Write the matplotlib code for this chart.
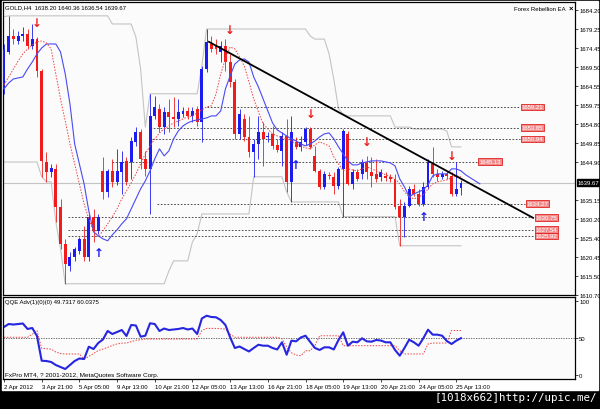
import numpy as np
import pandas as pd
import matplotlib
matplotlib.use('Agg')
import matplotlib.pyplot as plt
from matplotlib.patches import Rectangle
import matplotlib.transforms as mtransforms

plt.rcParams['font.family'] = ['Liberation Sans', 'DejaVu Sans']

# GOLD H4 candles (open, high, low, close)
opens = [1663.8, 1673.4, 1677.5, 1676.2, 1677.5, 1678.0, 1674.9, 1676.7, 1668.5, 1645.0,
         1642.5, 1643.2, 1633.4, 1623.9, 1618.2, 1620.5, 1622.1, 1625.2, 1620.5, 1630.9,
         1627.3, 1642.7, 1637.3, 1642.7, 1639.9, 1642.5, 1645.3, 1645.0, 1650.2, 1652.8,
         1645.8, 1643.2, 1656.9, 1658.7, 1654.0, 1657.9, 1656.6, 1656.1, 1657.4, 1658.2,
         1656.9, 1658.7, 1655.3, 1669.0, 1675.4, 1674.9, 1673.4, 1674.9, 1670.8, 1665.6,
         1652.2, 1656.1, 1651.5, 1647.6, 1649.7, 1652.8, 1651.5, 1652.2, 1649.4, 1647.9,
         1651.7, 1639.9, 1650.2, 1648.9, 1650.2, 1653.5, 1646.6, 1642.7, 1638.6, 1641.7,
         1641.2, 1638.8, 1643.2, 1652.2, 1639.4, 1642.5, 1641.9, 1645.0, 1642.5, 1641.9,
         1641.2, 1641.4, 1641.2, 1640.7, 1633.7, 1630.9, 1633.7, 1638.1, 1636.8, 1634.2,
         1638.6, 1644.5, 1641.9, 1641.2, 1641.9, 1641.4, 1636.8, 1638.2]
highs = [1675.4, 1682.7, 1679.3, 1678.8, 1679.8, 1679.3, 1680.6, 1677.2, 1669.0, 1647.6,
         1644.5, 1644.5, 1635.5, 1625.2, 1621.8, 1623.1, 1625.7, 1628.5, 1631.6, 1632.9,
         1631.6, 1646.3, 1643.2, 1645.8, 1648.4, 1647.9, 1646.3, 1651.5, 1654.0, 1653.5,
         1647.9, 1662.6, 1662.0, 1660.0, 1659.2, 1661.3, 1661.8, 1661.3, 1659.2, 1659.2,
         1659.2, 1659.5, 1669.8, 1679.3, 1677.5, 1676.7, 1676.2, 1676.7, 1672.9, 1666.4,
         1658.7, 1657.4, 1656.9, 1651.0, 1656.9, 1655.3, 1652.8, 1654.3, 1651.0, 1652.8,
         1656.1, 1656.9, 1651.5, 1651.7, 1654.0, 1654.0, 1649.1, 1643.2, 1642.7, 1642.5,
         1642.5, 1643.7, 1653.5, 1653.0, 1643.2, 1643.2, 1645.8, 1646.6, 1646.3, 1645.8,
         1643.2, 1642.5, 1641.9, 1641.9, 1635.5, 1634.7, 1638.8, 1639.4, 1638.1, 1639.9,
         1645.8, 1648.9, 1643.2, 1642.7, 1642.7, 1642.5, 1645.0, 1640.36]
lows = [1662.6, 1672.9, 1675.4, 1675.4, 1676.2, 1674.2, 1674.2, 1666.9, 1641.2, 1639.9,
        1641.2, 1629.6, 1622.6, 1613.6, 1616.9, 1619.5, 1621.3, 1619.5, 1619.5, 1624.4,
        1626.5, 1635.5, 1636.0, 1638.6, 1639.1, 1636.8, 1639.1, 1640.7, 1649.1, 1643.2,
        1641.4, 1631.6, 1656.1, 1652.8, 1652.2, 1652.8, 1654.0, 1654.3, 1656.6, 1656.1,
        1655.3, 1654.3, 1650.2, 1668.2, 1673.4, 1672.9, 1670.8, 1668.5, 1664.4, 1651.0,
        1651.0, 1650.4, 1646.3, 1641.2, 1645.8, 1644.0, 1650.2, 1648.4, 1647.6, 1644.0,
        1637.3, 1634.7, 1648.4, 1647.9, 1649.4, 1648.4, 1642.5, 1638.1, 1638.1, 1640.7,
        1636.8, 1638.1, 1630.9, 1639.0, 1638.1, 1640.1, 1640.7, 1640.7, 1638.6, 1639.9,
        1640.1, 1640.1, 1639.9, 1632.9, 1623.4, 1625.7, 1633.4, 1636.3, 1633.7, 1633.7,
        1638.1, 1641.2, 1640.1, 1640.7, 1640.7, 1636.3, 1636.3, 1636.54]
closes = [1674.2, 1677.5, 1676.7, 1677.5, 1678.0, 1674.9, 1676.7, 1668.5, 1645.3, 1642.5,
          1643.5, 1633.4, 1623.9, 1618.7, 1620.5, 1622.6, 1625.2, 1620.5, 1630.9, 1627.3,
          1630.9, 1637.3, 1642.7, 1639.9, 1642.7, 1645.0, 1639.9, 1650.4, 1652.8, 1645.8,
          1643.2, 1656.9, 1659.2, 1654.0, 1657.9, 1656.6, 1656.1, 1657.9, 1658.2, 1656.9,
          1658.2, 1655.3, 1669.0, 1676.0, 1674.2, 1674.2, 1674.9, 1670.8, 1665.6, 1652.2,
          1657.4, 1651.5, 1647.6, 1649.7, 1652.8, 1651.0, 1651.7, 1649.1, 1648.1, 1651.7,
          1639.9, 1652.8, 1648.9, 1650.2, 1653.5, 1648.9, 1642.7, 1638.6, 1641.9, 1641.4,
          1638.8, 1643.2, 1653.0, 1639.4, 1642.5, 1640.7, 1645.0, 1642.5, 1641.4, 1640.7,
          1642.5, 1640.9, 1640.7, 1633.4, 1630.9, 1633.7, 1638.1, 1636.8, 1634.2, 1638.6,
          1645.0, 1641.9, 1641.2, 1641.9, 1641.4, 1636.8, 1638.1, 1639.67]

# moving averages on the price chart (blue one is shifted forward)
ma_blue = [1663.85, 1665.40, 1666.42, 1666.68, 1666.94, 1669.00, 1670.80, 1672.87, 1674.41, 1675.44,
           1675.44, 1675.44, 1673.38, 1667.71, 1659.98, 1649.67, 1644.52, 1639.37, 1632.41, 1627.00,
           1625.97, 1625.19, 1624.68, 1626.22, 1627.51, 1629.06, 1630.35, 1632.92, 1635.50, 1638.08,
           1640.14, 1642.72, 1645.81, 1648.39, 1646.58, 1647.87, 1650.96, 1653.02, 1654.31, 1655.09,
           1655.60, 1655.86, 1656.12, 1656.37, 1656.89, 1656.89, 1658.18, 1663.85, 1667.20, 1670.29,
           1671.32, 1671.58, 1670.80, 1666.94, 1664.36, 1661.27, 1658.18, 1655.09, 1653.28, 1652.51,
           1651.73, 1650.96, 1650.45, 1649.67, 1649.16, 1649.67, 1650.45, 1651.48, 1652.25, 1652.51,
           1650.96, 1648.90, 1647.10, 1645.29, 1644.26, 1644.26, 1644.78, 1645.03, 1645.29, 1645.29,
           1645.29, 1645.03, 1644.78, 1644.00, 1640.65, 1638.59, 1636.02, 1636.79, 1637.30, 1637.82,
           1639.11, 1641.43, 1641.94, 1641.94, 1641.94, 1643.23, 1643.23, 1642.72, 1641.69, 1640.91,
           1640.14, 1639.37]
ma_red = [1664.88, 1666.94, 1669.00, 1671.06, 1672.87, 1674.16, 1675.19, 1675.96, 1676.22, 1675.70,
          1674.16, 1667.71, 1661.27, 1655.60, 1649.67, 1644.52, 1639.37, 1634.21, 1630.35, 1627.25,
          1625.71, 1627.25, 1629.06, 1630.86, 1632.92, 1635.50, 1637.56, 1639.62, 1641.94, 1644.52,
          1647.10, 1649.16, 1650.96, 1652.51, 1653.54, 1654.31, 1655.09, 1655.60, 1656.12, 1656.63,
          1656.89, 1657.66, 1658.43, 1659.21, 1659.47, 1662.56, 1667.71, 1671.58, 1674.67, 1674.16,
          1672.09, 1669.77, 1665.65, 1661.27, 1657.92, 1654.83, 1653.54, 1652.25, 1651.73, 1651.22,
          1650.96, 1650.45, 1649.67, 1649.16, 1648.64, 1648.39, 1649.42, 1650.19, 1649.67, 1649.16,
          1646.32, 1644.52, 1642.72, 1643.23, 1642.97, 1642.72, 1643.23, 1643.75, 1643.23, 1642.72,
          1642.20, 1641.69, 1641.17, 1640.65, 1639.37, 1637.30, 1636.02, 1635.50, 1636.02, 1636.53,
          1638.08, 1639.37, 1639.88, 1640.14, 1640.40, 1640.91, 1641.43, 1641.17]

# channel: highs/lows of the bars before the visible window
channel_len = 22
prev_high = 1682.5
prev_low = 1645.0

# signal arrows (bar, price)
down_bars = [7, 48, 65, 77, 95]
down_prices = [1680.9, 1679.3, 1657.4, 1650.2, 1646.6]
up_bars = [20, 62, 89]
up_prices = [1621.6, 1644.3, 1630.9]

# horizontal levels with start/end bar
level_prices = [1659.21, 1653.85, 1650.94, 1645.13, 1634.27, 1630.75, 1627.54, 1625.92]
level_start = [43, 31, 31.5, 23, 32.5, 13.5, 13.5, 13.5]
level_end = [109.6, 109.6, 109.6, 100.6, 110.6, 112.5, 112.5, 112.5]

trend_x = [43.5, 112.3]
trend_y = [1676.0, 1630.6]
bid = 1639.67

price_ticks = [1684.20, 1679.25, 1674.45, 1669.50, 1664.55, 1659.75, 1654.80, 1649.85,
               1644.90, 1635.15, 1630.20, 1625.40, 1620.45, 1615.50, 1610.70]

# QQE indicator
qqe_fast = [64.9, 68.9, 68.2, 68.9, 69.6, 62.2, 63.5, 52.7, 19.3, 18.9,
            17.6, 13.5, 10.8, 8.1, 13.5, 18.9, 22.3, 21.6, 38.2, 35.1,
            43.2, 48.0, 59.5, 55.4, 58.1, 60.8, 52.7, 67.6, 66.9, 51.8,
            53.1, 69.9, 68.9, 59.5, 62.8, 60.8, 61.5, 62.2, 63.5, 61.5,
            62.8, 55.4, 76.4, 80.1, 78.4, 78.0, 74.3, 67.6, 50.9, 36.5,
            38.5, 35.1, 31.8, 36.5, 40.9, 39.6, 39.6, 36.5, 34.5, 44.2,
            27.4, 46.4, 45.5, 50.7, 53.1, 44.6, 36.5, 33.8, 37.4, 37.4,
            34.5, 47.3, 57.7, 39.6, 45.0, 44.2, 49.6, 45.5, 45.0, 47.3,
            46.6, 44.2, 44.2, 33.8, 26.1, 36.5, 47.7, 44.2, 39.6, 49.6,
            61.2, 54.5, 54.5, 53.1, 45.9, 41.9, 46.4, 49.73]
qqe_slow = [51, 51, 51, 51, 51, 51, 55, 60, 36, 35.5,
            35, 31, 29, 28.4, 28.4, 28.4, 28.4, 21.6, 25, 29,
            33, 35, 37.4, 40, 42, 43, 43.2, 45, 47, 47.5,
            48.6, 48.6, 48.6, 48.6, 48.6, 48.6, 48.6, 48.6, 48.6, 48.6,
            48.6, 48.6, 60, 63, 63, 63, 62.5, 62.2, 55, 51,
            51, 51, 51, 51, 51, 51, 51, 51, 51, 49,
            38, 30, 27, 26, 32.8, 32.8, 40, 53, 53, 53,
            53, 53, 39.6, 39.6, 39.6, 39.6, 39.6, 39.6, 39.6, 39.6,
            39.6, 39.6, 39.6, 39.6, 33, 28.4, 28.4, 28.4, 28.4, 28.4,
            41.9, 43.2, 43.2, 43.2, 43.2, 60, 60.04, 60.04]

date_ticks = list(range(0, 97, 8))
date_labels = ['2 Apr 2012', '3 Apr 21:00', '5 Apr 05:00', '9 Apr 13:00', '10 Apr 21:00',
               '12 Apr 05:00', '13 Apr 13:00', '16 Apr 21:00', '18 Apr 05:00', '19 Apr 13:00',
               '20 Apr 21:00', '24 Apr 05:00', '25 Apr 13:00']

# Figure

fig = plt.figure(figsize=(6, 4.1), dpi=100, facecolor='black')
fig.patches.append(Rectangle((2 / 600, 19 / 410), 596 / 600, 389 / 410,
                             transform=fig.transFigure, color='white', zorder=-10))

ax = fig.add_axes([3 / 600, 1 - 296 / 410, 572 / 600, 293 / 410], facecolor='#fbfbfb')
ax2 = fig.add_axes([3 / 600, 1 - 380 / 410, 572 / 600, 82 / 410], facecolor='#fbfbfb')

o = np.array(opens)
h = np.array(highs)
l = np.array(lows)
c = np.array(closes)
x = np.arange(len(c))
up = c >= o
col = np.where(up, '#1c1cf0', '#f01c1c')

# price channel
hi_ext = pd.Series([prev_high] * (channel_len - 1) + highs)
lo_ext = pd.Series([prev_low] * (channel_len - 1) + lows)
upper = hi_ext.rolling(channel_len).max().to_numpy()[channel_len - 1:]
lower = lo_ext.rolling(channel_len).min().to_numpy()[channel_len - 1:]
ax.plot(x, upper, color='#c4c4c4', lw=0.8, zorder=1)
ax.plot(x, lower, color='#c4c4c4', lw=0.8, zorder=1)
ax.axhline(bid, color='#c4c4c4', lw=0.8, zorder=1)

ax.hlines(level_prices, level_start, level_end, colors='#303030',
          linestyles=(0, (2, 2)), lw=0.6, zorder=2)

ax.vlines(x, l, h, colors=col, lw=0.6, zorder=3)
body = np.maximum(np.abs(c - o), 0.25)
ax.bar(x, body, bottom=np.minimum(o, c), width=0.62, color=col, lw=0, zorder=4)

ax.plot(np.arange(len(ma_blue)), ma_blue, color='#4a4af5', lw=0.8, zorder=5)
ax.plot(np.arange(len(ma_red)), ma_red, color='#f04040', lw=0.7,
        ls=(0, (1.5, 1.5)), zorder=5)

ax.plot(trend_x, trend_y, color='black', lw=1.3, zorder=6)

for bx, by in zip(down_bars, down_prices):
    ax.text(bx, by, '↓', color='#f01c1c', fontsize=8.5, fontweight='bold',
            ha='center', va='center', family='DejaVu Sans', zorder=7)
for bx, by in zip(up_bars, up_prices):
    ax.text(bx, by, '↑', color='#1c1cf0', fontsize=8.5, fontweight='bold',
            ha='center', va='center', family='DejaVu Sans', zorder=7)

for lv, le in zip(level_prices, level_end):
    ax.text(le + 0.3, lv, f'{lv:.2f}', color='white', fontsize=4.3, ha='left', va='center',
            zorder=8, bbox=dict(boxstyle='square,pad=0.15', fc='#f28c8c', ec='#e02020', lw=0.6))

ax.set_xlim(-0.21, 121.2)
ax.set_ylim(1610.76, 1686.27)
ax.set_xticks([])
ax.yaxis.tick_right()
ax.set_yticks(price_ticks)
ax.set_yticklabels([f'{t:.2f}' for t in price_ticks])
ax.tick_params(axis='y', labelsize=4.3, length=2, width=0.5, pad=1)

trans = mtransforms.blended_transform_factory(ax.transAxes, ax.transData)
ax.text(1.005, bid, f'{bid:.2f}', transform=trans, color='white', fontsize=4.3,
        ha='left', va='center', zorder=9,
        bbox=dict(boxstyle='square,pad=0.15', fc='black', ec='black'))

ax.text(0.004, 0.992, 'GOLD,H4  1638.20 1640.36 1636.54 1639.67', transform=ax.transAxes,
        fontsize=4.3, ha='left', va='top')
ax.text(0.984, 0.978, 'Forex Rebellion EA', transform=ax.transAxes,
        fontsize=4.3, ha='right', va='center')
ax.text(0.997, 0.978, '×', transform=ax.transAxes, fontsize=5.5, fontweight='bold',
        ha='right', va='center')

for sp in ax.spines.values():
    sp.set_color('black')
    sp.set_linewidth(0.9)

# QQE panel
ax2.axhline(50, color='#505050', lw=0.6, ls=(0, (1.5, 1.5)))
ax2.plot(np.arange(len(qqe_slow)), qqe_slow, color='#f04040', lw=0.7, ls=(0, (1.5, 1.5)))
ax2.plot(np.arange(len(qqe_fast)), qqe_fast, color='#2626e0', lw=1.5)
ax2.set_xlim(-0.21, 121.2)
ax2.set_ylim(-5.4, 105.4)
ax2.yaxis.tick_right()
ax2.set_yticks([0, 50, 100])
ax2.set_yticklabels(['0', '50', '100'])
ax2.tick_params(axis='y', labelsize=4.3, length=2, width=0.5, pad=1)
ax2.set_xticks(date_ticks)
ax2.set_xticklabels(date_labels, ha='left', fontsize=4.3)
ax2.tick_params(axis='x', length=2, width=0.5, pad=1.5)
ax2.text(0.004, 0.97, 'QQE Adv(1)(0)(0) 49.7317 60.0375', transform=ax2.transAxes,
         fontsize=4.3, ha='left', va='top')
ax2.text(0.004, 0.03, 'FxPro MT4, ? 2001-2012, MetaQuotes Software Corp.',
         transform=ax2.transAxes, fontsize=4.6, ha='left', va='bottom')
for sp in ax2.spines.values():
    sp.set_color('black')
    sp.set_linewidth(0.9)

fig.text(0.995, 0.018, '[1018x662]http://upic.me/', color='white', fontsize=7.8,
         family='DejaVu Sans Mono', ha='right', va='bottom')

fig.savefig('out.png', dpi=100, facecolor=fig.get_facecolor())
